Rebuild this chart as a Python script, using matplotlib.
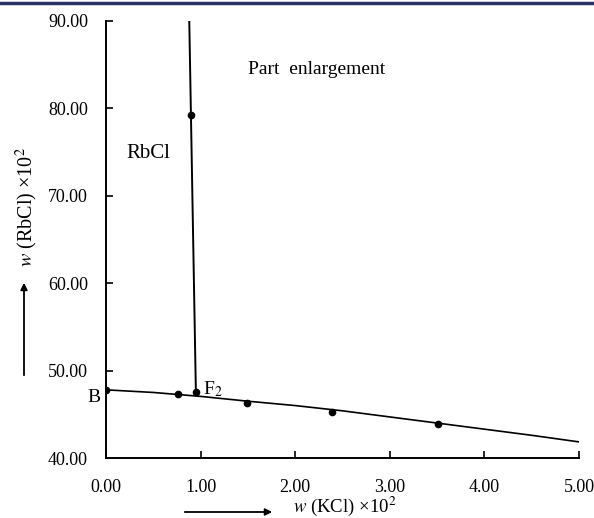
import matplotlib.pyplot as plt
from matplotlib.lines import Line2D
import numpy as np

plt.rcParams['font.family'] = ['Liberation Serif', 'DejaVu Serif']
plt.rcParams['mathtext.fontset'] = 'stix'

# solubility curve of KCl saturation (B -> right)
curve_x = [0.0, 0.5, 1.0, 1.5, 2.0, 2.5, 3.0, 3.5, 4.0, 4.5, 5.03]
curve_y = [47.8, 47.5, 47.05, 46.5, 46.0, 45.4, 44.7, 44.0, 43.3, 42.6, 41.8]

# RbCl branch from F2 upward
rb_x = [0.95, 0.88]
rb_y = [47.5, 90.0]

# measured points
pts_x = [0.0, 0.76, 0.95, 1.49, 2.39, 3.51, 0.90]
pts_y = [47.8, 47.35, 47.5, 46.3, 45.3, 43.9, 79.2]

xticks = [0, 1, 2, 3, 4, 5]
yticks = [40, 50, 60, 70, 80, 90]

fig = plt.figure(figsize=(5.94, 5.18), dpi=100)
ax = fig.add_axes([0.1785, 0.1158, 0.7962, 0.8437])

ax.plot(curve_x, curve_y, color='black', lw=1.2)
ax.plot(rb_x, rb_y, color='black', lw=1.4)
ax.plot(pts_x, pts_y, 'o', color='black', ms=4.5)

ax.set_xlim(0, 5)
ax.set_ylim(40, 90)
ax.set_xticks(xticks)
ax.set_yticks(yticks)
ax.set_xticklabels(['%.2f' % v for v in xticks])
ax.set_yticklabels(['%.2f' % v for v in yticks])
ax.tick_params(direction='in', length=5, width=1.2, labelsize=13)
ax.tick_params(axis='x', pad=15)
ax.tick_params(axis='y', pad=13)
for s in ['top', 'right']:
    ax.spines[s].set_visible(False)
for s in ['left', 'bottom']:
    ax.spines[s].set_linewidth(1.4)

ax.text(1.5, 84.4, 'Part  enlargement', fontsize=14, va='center')
ax.text(0.22, 74.8, 'RbCl', fontsize=15, va='center')
ax.text(-0.06, 46.9, 'B', fontsize=14, va='center', ha='right')
ax.text(1.03, 47.9, r'F$_2$', fontsize=14, va='center', ha='left')

# axis labels with arrows
fig.text(27 / 594, 1 - 207 / 518, r'$w$ (RbCl) ×10$^2$', rotation=90,
         fontsize=14.5, ha='center', va='center')
ax.annotate('', xy=(24 / 594, 1 - 280 / 518), xytext=(24 / 594, 1 - 378 / 518),
            xycoords='figure fraction',
            arrowprops=dict(arrowstyle='-|>', color='black', lw=1.3))

fig.text(345 / 594, 1 - 506 / 518, r'$w$ (KCl) ×10$^2$', fontsize=13.5,
         ha='center', va='center')
ax.annotate('', xy=(275 / 594, 1 - 512 / 518), xytext=(182 / 594, 1 - 512 / 518),
            xycoords='figure fraction',
            arrowprops=dict(arrowstyle='-|>', color='black', lw=1.3))

# header rule
fig.add_artist(Line2D([0, 1], [1 - 2.5 / 518, 1 - 2.5 / 518], color='#2b3466', lw=2.5))

fig.savefig('out.png', dpi=100)
